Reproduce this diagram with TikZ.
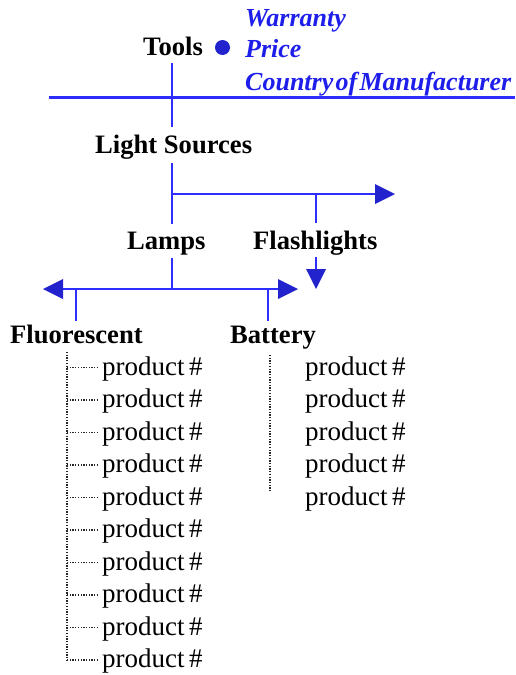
\documentclass[tikz,border=0pt]{standalone}
\usepackage{fontspec}
\setmainfont{Liberation Serif}
\newfontfamily\attrfont{Liberation Serif}[WordSpace=0.35]
\usetikzlibrary{arrows.meta}
\definecolor{lineblue}{RGB}{45,45,255}
\definecolor{headblue}{RGB}{35,35,205}
\definecolor{textblue}{RGB}{30,30,235}
\tikzset{
  lab/.style={font=\fontsize{26.6}{30}\selectfont\bfseries, inner sep=0pt, anchor=base west},
  attr/.style={font=\attrfont\fontsize{26}{30}\selectfont\bfseries\itshape, text=textblue, inner sep=0pt, anchor=base west},
  prod/.style={font=\fontsize{27}{30}\selectfont, inner sep=0pt, anchor=base west},
  bl/.style={draw=lineblue, line width=2.2pt},
  tip/.style={-{Triangle[length=20pt,width=20pt,fill=headblue,line width=0pt]}},
  tipL/.style={{Triangle[length=20pt,width=20pt,fill=headblue,line width=0pt]}-},
  dots/.style={draw=black!85, line width=1.3pt, dash pattern=on 1.3pt off 1.4pt},
}
\begin{document}
\begin{tikzpicture}[x=1pt,y=-1pt]
\useasboundingbox (0,0) rectangle (515,675);
% top
\node[lab] (tools) at (143,55) {Tools};
\node[circle, fill=headblue, minimum size=15pt, inner sep=0pt] (bullet) at (222.5,47.5) {};
\node[attr] (warranty) at (245,26) {Warranty};
\node[attr] (price) at (245,57) {Price};
\node[attr] (country) at (245,90) {Country of Manufacturer};
\coordinate (t1) at (172,63);
\coordinate (t2) at (172,127);
\coordinate (hl) at (49,97.5);
\coordinate (hr) at (515,97.5);
\draw[bl] (t1) -- (t2);
\draw[bl] (hl) -- (hr);
% light sources
\node[lab] (light) at (95,153) {Light Sources};
\coordinate (l1) at (172,163);
\coordinate (l2) at (172,224);
\coordinate (lb) at (172,194);
\coordinate (lr) at (395,194);
\coordinate (f1) at (316,194);
\coordinate (f2) at (316,223);
\draw[bl] (l1) -- (l2);
\draw[bl, tip] (lb) -- (lr);
\draw[bl] (f1) -- (f2);
% lamps / flashlights
\node[lab] (lamps) at (127,249) {Lamps};
\node[lab] (flash) at (253,249) {Flashlights};
\coordinate (m1) at (172,258);
\coordinate (m2) at (172,289);
\coordinate (ml) at (43,289);
\coordinate (mr) at (298,289);
\coordinate (d1) at (316,257);
\coordinate (d2) at (316,289);
\draw[bl] (m1) -- (m2);
\draw[bl, tipL] (ml) -- (m2);
\draw[bl, tip] (m2) -- (mr);
\draw[bl, tip] (d1) -- (d2);
\coordinate (fa) at (76,289);
\coordinate (fb) at (76,321);
\coordinate (ba) at (268,289);
\coordinate (bb) at (268,321);
\draw[bl] (fa) -- (fb);
\draw[bl] (ba) -- (bb);
% fluorescent / battery
\node[lab] (fluor) at (10,343) {Fluorescent};
\node[lab] (batt) at (230,343) {Battery};
\coordinate (fv1) at (67,352);
\coordinate (fv2) at (67,660.5);
\draw[dots] (fv1) -- (fv2);
\coordinate (bv1) at (270,355);
\coordinate (bv2) at (270,492);
\draw[dots] (bv1) -- (bv2);
\foreach \i in {0,...,9} {
  \pgfmathsetmacro{\yy}{375+32.5*\i}
  \node[prod] (fp\i) at (102,\yy) {product\,\#};
  \coordinate (fj\i) at (67,\yy-7.5);
  \draw[dots] (fj\i) -- ([xshift=-4pt]fp\i.west |- fj\i);
}
\foreach \i in {0,...,4} {
  \pgfmathsetmacro{\yy}{375+32.5*\i}
  \node[prod] (bp\i) at (305,\yy) {product\,\#};
}
\end{tikzpicture}
\end{document}
